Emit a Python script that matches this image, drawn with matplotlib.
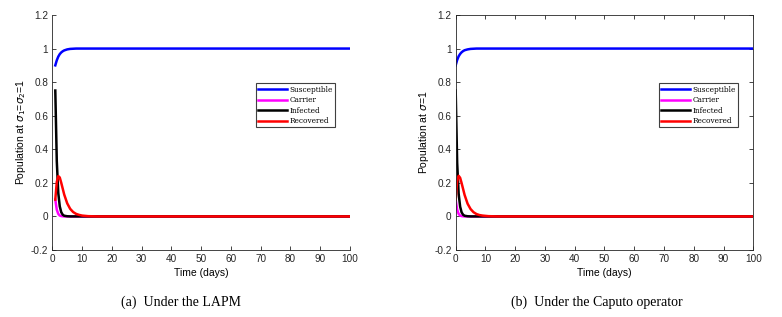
import numpy as np
import matplotlib.pyplot as plt

# ================= Data =================
# (a) LAPM, sigma1 = sigma2 = 1, simulation starts at t = 1
t_a = [1, 1.5, 2, 2.5, 3, 3.5, 4, 5, 6, 7, 8, 9, 10, 12, 15, 20, 40, 60, 80, 100]
sus_a = [0.900, 0.930, 0.952, 0.967, 0.977, 0.984, 0.989, 0.995, 0.998, 0.999,
         1.0, 1.0, 1.0, 1.0, 1.0, 1.0, 1.0, 1.0, 1.0, 1.0]
car_a = [0.100, 0.040, 0.015, 0.005, 0.002, 0.001, 0.0, 0.0, 0.0, 0.0,
         0.0, 0.0, 0.0, 0.0, 0.0, 0.0, 0.0, 0.0, 0.0, 0.0]
inf_a = [0.750, 0.330, 0.140, 0.060, 0.025, 0.010, 0.004, 0.001, 0.0, 0.0,
         0.0, 0.0, 0.0, 0.0, 0.0, 0.0, 0.0, 0.0, 0.0, 0.0]
rec_a = [0.100, 0.205, 0.240, 0.232, 0.200, 0.165, 0.130, 0.078, 0.045, 0.026,
         0.015, 0.009, 0.005, 0.0015, 0.0, 0.0, 0.0, 0.0, 0.0, 0.0]

# (b) Caputo operator, sigma = 1, simulation starts at t = 0
t_b = [0, 0.5, 1, 1.5, 2, 2.5, 3, 4, 5, 6, 7, 8, 9, 11, 14, 20, 40, 60, 80, 100]
sus_b = [0.900, 0.932, 0.954, 0.968, 0.978, 0.985, 0.990, 0.995, 0.998, 0.999,
         1.0, 1.0, 1.0, 1.0, 1.0, 1.0, 1.0, 1.0, 1.0, 1.0]
car_b = [0.100, 0.040, 0.015, 0.005, 0.002, 0.001, 0.0, 0.0, 0.0, 0.0,
         0.0, 0.0, 0.0, 0.0, 0.0, 0.0, 0.0, 0.0, 0.0, 0.0]
inf_b = [0.750, 0.320, 0.135, 0.058, 0.024, 0.010, 0.004, 0.001, 0.0, 0.0,
         0.0, 0.0, 0.0, 0.0, 0.0, 0.0, 0.0, 0.0, 0.0, 0.0]
rec_b = [0.100, 0.210, 0.242, 0.230, 0.198, 0.163, 0.128, 0.076, 0.044, 0.025,
         0.014, 0.008, 0.005, 0.0015, 0.0, 0.0, 0.0, 0.0, 0.0, 0.0]

labels = ['Susceptible', 'Carrier', 'Infected', 'Recovered']
colors = ['#0000ff', '#ff00ff', '#000000', '#ff0000']
xticks = np.arange(0, 101, 10)
yticks = [-0.2, 0, 0.2, 0.4, 0.6, 0.8, 1, 1.2]
yticklabels = ['-0.2', '0', '0.2', '0.4', '0.6', '0.8', '1', '1.2']

plt.rcParams['font.family'] = 'Liberation Sans'

fig = plt.figure(figsize=(7.82, 3.17), dpi=100)
ax_a = fig.add_axes([0.0669, 0.2114, 0.3807, 0.7413])
ax_b = fig.add_axes([0.5827, 0.2114, 0.3806, 0.7413])


def draw(ax, t, series, ylabel, box):
    for y, lab, c in zip(series, labels, colors):
        ax.plot(t, y, color=c, linewidth=1.8, label=lab)
    ax.set_xlim(0, 100)
    ax.set_ylim(-0.2, 1.2)
    ax.set_xticks(xticks)
    ax.set_yticks(yticks)
    ax.set_yticklabels(yticklabels)
    ax.tick_params(direction='in', length=3, width=0.6, labelsize=7.2,
                   colors='#262626', top=box, right=box, pad=3)
    for s in ax.spines.values():
        s.set_color('#262626')
        s.set_linewidth(0.6)
    if not box:
        ax.spines['top'].set_visible(False)
        ax.spines['right'].set_visible(False)
    ax.set_xlabel('Time (days)', fontsize=7.5, labelpad=3)
    ax.set_ylabel(ylabel, fontsize=7.5, labelpad=2)
    leg = ax.legend(loc='upper right', bbox_to_anchor=(0.962, 0.725),
                    prop={'family': 'DejaVu Serif', 'size': 5.3},
                    handlelength=3.9, handletextpad=0.35, labelspacing=0.35,
                    borderpad=0.3, fancybox=False, framealpha=1)
    leg.get_frame().set_edgecolor('#404040')
    leg.get_frame().set_linewidth(0.8)


draw(ax_a, t_a, [sus_a, car_a, inf_a, rec_a],
     r'Population at $\sigma_1$=$\sigma_2$=1', box=False)
draw(ax_b, t_b, [sus_b, car_b, inf_b, rec_b],
     r'Population at $\sigma$=1', box=True)

fig.text(181 / 782, 1 - 302 / 317, '(a)  Under the LAPM', ha='center', va='center',
         family='Liberation Serif', fontsize=10)
fig.text(597 / 782, 1 - 302 / 317, '(b)  Under the Caputo operator', ha='center',
         va='center', family='Liberation Serif', fontsize=10)

fig.savefig('out.png', dpi=100)
